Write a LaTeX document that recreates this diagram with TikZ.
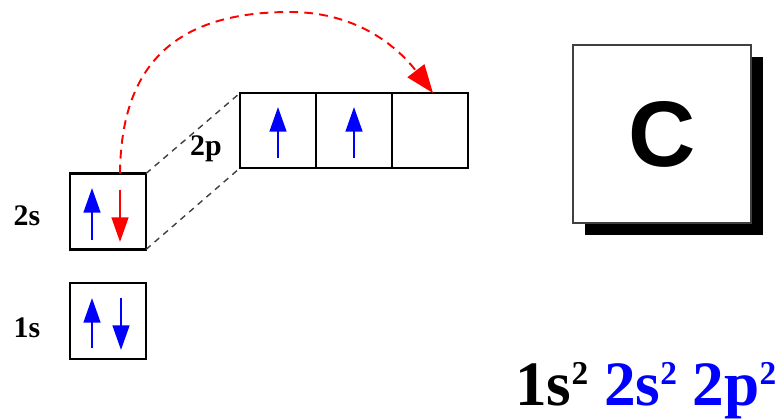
\documentclass[tikz,border=0pt]{standalone}
\usepackage{fontspec}
\setmainfont{Liberation Serif}
\newfontfamily\elemfont{Liberation Sans}
\usetikzlibrary{arrows.meta,positioning,shadows}
\newcommand{\esup}[1]{\raisebox{11.4pt}{\fontsize{19}{19}\selectfont #1}}

\begin{document}
\begin{tikzpicture}[x=0.02cm, y=-0.02cm,
  orb/.style={draw, line width=1.4pt, minimum size=1.52cm, inner sep=0pt, outer sep=0pt},
  lbl/.style={font=\fontsize{17}{17}\selectfont\bfseries, anchor=base, inner sep=0pt},
  spin/.style={line width=1.3pt, -{Triangle[length=14pt, width=9.5pt]}},
  jump/.style={red, dash pattern=on 5pt off 3.5pt, line width=1.1pt, -{Triangle[length=16pt, width=12pt]}},
  link/.style={black!75, line width=0.8pt, dash pattern=on 3.5pt off 3pt}]
\useasboundingbox (0,0) rectangle (780,419);

% Orbital boxes
\node[orb] (s1) at (108,321) {};
\node[orb] (s2) at (108,211.5) {};
\node[orb, minimum height=1.5cm] (p1) at (278,130.5) {};
\node[orb, minimum height=1.5cm, right=0pt of p1] (p2) {};
\node[orb, minimum height=1.5cm, right=0pt of p2] (p3) {};

% Labels
\node[lbl] (l1s) at (27,337) {1s};
\node[lbl] (l2s) at (27,225) {2s};
\node[lbl] (l2p) at (206,155) {2p};

% Dashed guides 2s -> 2p
\draw[link] (s2.north east) -- (p1.north west);
\draw[link] (s2.south east) -- (p1.south west);

% Electrons
\draw[spin, blue] (92,348) -- (92,298);
\draw[spin, blue] (121,298) -- (121,350);
\draw[spin, blue] (92,240) -- (92,188);
\draw[spin, red] (120,190) -- (120,242);
\draw[spin, blue] (278,158) -- (278,107);
\draw[spin, blue] (354,158) -- (354,107);

% Promotion of one 2s electron
\draw[jump] ([xshift=0.24cm]s2.north) .. controls (121,60) and (180,12) .. (290,12)
  .. controls (360,12) and (400,50) .. ([xshift=0.06cm]p3.north);

% Element box
\node[draw=black!75, line width=1.2pt, fill=white, minimum size=3.56cm, inner sep=0pt,
  drop shadow={shadow xshift=6.8pt, shadow yshift=-6.8pt, fill=black, opacity=1},
  font=\elemfont\bfseries\fontsize{53}{53}\selectfont] (elem) at (662,134) {C};

% Configuration
\node[anchor=base west, inner sep=0pt, font=\fontsize{36}{36}\selectfont\bfseries] (conf) at (515,405)
  {1s\esup{2} \textcolor{blue}{2s\esup{2} 2p\esup{2}}};

\end{tikzpicture}
\end{document}
